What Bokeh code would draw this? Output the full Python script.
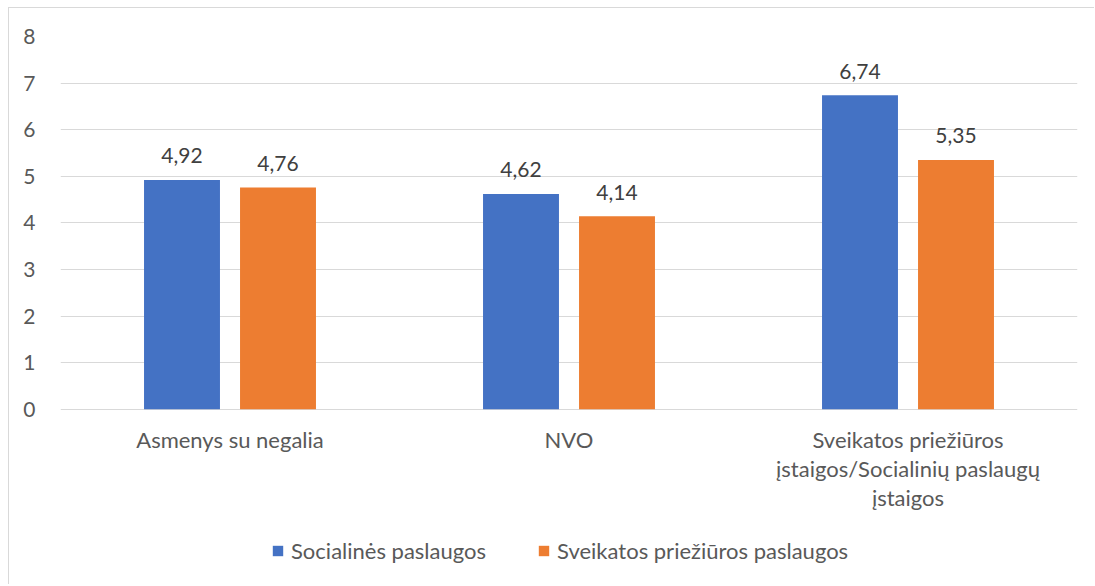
from bokeh.plotting import figure
from bokeh.models import ColumnDataSource, FactorRange, Range1d, FixedTicker, Legend, LegendItem
from bokeh.transform import dodge
from bokeh.core.properties import value
from bokeh.embed import file_html
from bokeh.resources import INLINE

categories = ["Asmenys su negalia", "NVO",
              "Sveikatos priežiūros\nįstaigos/Socialinių paslaugų\nįstaigos"]
social = [4.92, 4.62, 6.74]
health = [4.76, 4.14, 5.35]
series_names = ["Socialinės paslaugos", "Sveikatos priežiūros paslaugos"]
y_ticks = [0, 1, 2, 3, 4, 5, 6, 7, 8]

FONT = "Lato"
FS = "22px"
FSN = "21px"
BLUE = "#4472C4"
ORANGE = "#ED7D31"
GRID = "#d9d9d9"
TXT = "#595959"
LBL = "#404040"

src = ColumnDataSource(dict(
    cat=categories,
    zero=[0] * len(categories),
    social=social,
    health=health,
    social_lbl=[f"{v:.2f}".replace(".", ",") for v in social],
    health_lbl=[f"{v:.2f}".replace(".", ",") for v in health],
))

# frame spans the whole chart area below the top margin; the value axis runs 0..8,
# the space below 0 holds the category labels and the legend
p = figure(width=1086, height=577, output_backend="svg", toolbar_location=None,
           x_range=FactorRange(*categories, range_padding=0),
           y_range=Range1d(-3.785, 8),
           min_border_left=51, min_border_right=18, min_border_top=28, min_border_bottom=0)
p.styles = {"border-top": "1px solid #d9d9d9", "border-left": "1px solid #d9d9d9",
            "border-right": "none", "border-bottom": "none",
            "margin-left": "8px", "margin-top": "7px"}
p.outline_line_color = None
p.background_fill_color = "white"
p.border_fill_color = "white"

OFF = 0.1416
W = 0.224
r1 = p.vbar(x=dodge("cat", -OFF, range=p.x_range), top="social", width=W, source=src,
            fill_color=BLUE, line_color=None)
r2 = p.vbar(x=dodge("cat", OFF, range=p.x_range), top="health", width=W, source=src,
            fill_color=ORANGE, line_color=None)

for off, col in [(-OFF, "social"), (OFF, "health")]:
    p.text(x=dodge("cat", off, range=p.x_range), y=col, text=col + "_lbl", source=src,
           text_align="center", text_baseline="alphabetic", y_offset=-24,
           text_font=value(FONT), text_font_size=FSN, text_color=LBL)

# category axis labels (drawn below the 0 line)
p.text(x="cat", y="zero", text="cat", source=src, text_align="center", text_baseline="top",
       y_offset=17, text_font=value(FONT), text_font_size=FS, text_color=TXT,
       text_line_height=1.08)

p.xaxis.visible = False
p.xgrid.grid_line_color = None

p.yaxis.ticker = FixedTicker(ticks=y_ticks)
p.yaxis.axis_line_color = None
p.yaxis.major_tick_line_color = None
p.yaxis.minor_tick_line_color = None
p.yaxis.major_label_text_font = FONT
p.yaxis.major_label_text_font_size = FSN
p.yaxis.major_label_text_color = TXT
p.yaxis.major_label_standoff = 19
p.ygrid.grid_line_color = GRID
p.ygrid.ticker = FixedTicker(ticks=y_ticks)

legend = Legend(items=[LegendItem(label=series_names[0], renderers=[r1]),
                       LegendItem(label=series_names[1], renderers=[r2])],
                orientation="horizontal", location=(211, 21),
                glyph_width=13, glyph_height=13, label_standoff=7, spacing=51,
                padding=0, margin=0, border_line_color=None, background_fill_alpha=0,
                label_text_font=FONT, label_text_font_size=FS, label_text_color=TXT,
                label_height=20)
p.add_layout(legend, "center")

open("out.html", "w").write(file_html(p, INLINE))
